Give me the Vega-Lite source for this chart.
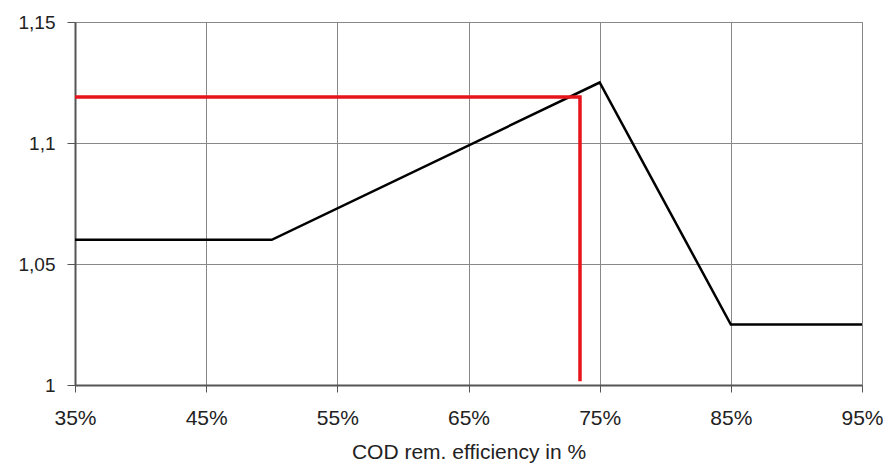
{
  "$schema": "https://vega.github.io/schema/vega-lite/v6.json",
  "autosize": "none",
  "width": 787,
  "height": 363,
  "padding": {"left": 75, "top": 22, "right": 30, "bottom": 81},
  "background": "white",
  "config": {
    "view": {"stroke": "#888888", "strokeWidth": 1},
    "font": "Liberation Sans"
  },
  "datasets": {
    "curve": [
      {"eff": 35, "f": 1.06},
      {"eff": 50, "f": 1.06},
      {"eff": 75, "f": 1.125},
      {"eff": 85, "f": 1.025},
      {"eff": 95, "f": 1.025}
    ],
    "marker": [
      {"eff": 35, "f": 1.119, "o": 1},
      {"eff": 73.5, "f": 1.119, "o": 2},
      {"eff": 73.5, "f": 1.0015, "o": 3}
    ]
  },
  "layer": [
    {
      "data": {"name": "curve"},
      "mark": {"type": "line", "color": "black", "strokeWidth": 2.5},
      "encoding": {
        "x": {
          "field": "eff", "type": "quantitative",
          "scale": {"domain": [35, 95], "nice": false, "zero": false},
          "axis": {
            "values": [35, 45, 55, 65, 75, 85, 95],
            "labelExpr": "datum.value + '%'",
            "labelFlush": false, "labelBound": false, "labelOverlap": false,
            "title": "COD rem. efficiency in %",
            "titleFontSize": 21, "titleFontWeight": "normal", "titleColor": "#222222", "titlePadding": 13,
            "labelFontSize": 21, "labelColor": "#222222", "labelPadding": 15,
            "grid": true, "gridColor": "#888888", "gridWidth": 1,
            "domainColor": "#555555", "domainWidth": 2,
            "tickColor": "#555555", "tickSize": 7, "tickWidth": 1
          }
        },
        "y": {
          "field": "f", "type": "quantitative",
          "scale": {"domain": [1, 1.15], "nice": false, "zero": false},
          "axis": {
            "values": [1, 1.05, 1.1, 1.15],
            "labelExpr": "replace(format(datum.value, '~g'), '.', ',')",
            "labelFlush": false, "labelBound": false, "labelOverlap": false,
            "title": null,
            "labelFontSize": 19, "labelColor": "#222222", "labelPadding": 12,
            "grid": true, "gridColor": "#888888", "gridWidth": 1,
            "domainColor": "#555555", "domainWidth": 2,
            "tickColor": "#555555", "tickSize": 8, "tickWidth": 1
          }
        }
      }
    },
    {
      "data": {"name": "marker"},
      "mark": {"type": "line", "color": "#e8141c", "strokeWidth": 3.5},
      "encoding": {
        "x": {"field": "eff", "type": "quantitative"},
        "y": {"field": "f", "type": "quantitative"},
        "order": {"field": "o", "type": "quantitative"}
      }
    }
  ]
}
